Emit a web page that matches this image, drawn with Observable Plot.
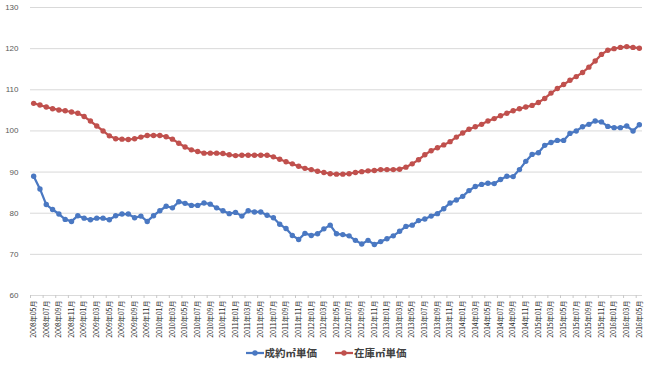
<!DOCTYPE html>
<html>
<head>
<meta charset="utf-8">
<script src="https://cdn.jsdelivr.net/npm/d3@7"></script>
<script src="https://cdn.jsdelivr.net/npm/@observablehq/plot@0.6"></script>
<style>
  body { margin: 0; background: #fff; font-family: "Noto Sans CJK JP", "Liberation Sans", sans-serif; }
  #chart svg { display: block; }
  #legend { width: 650px; height: 25px; display: flex; justify-content: center; align-items: center; gap: 18px; font-size: 10.5px; font-weight: bold; color: #404040; padding-left: 2px; box-sizing: border-box; }
  .item { display: flex; align-items: center; gap: 1px; }
</style>
</head>
<body>
<div id="chart"></div>
<div id="legend"></div>
<script>
// Categories: monthly, 2008年05月 … 2016年05月
const months = d3.timeMonth.range(new Date(2008, 4, 1), new Date(2016, 5, 1))
  .map(d => `${d.getFullYear()}年${String(d.getMonth() + 1).padStart(2, "0")}月`);
const tickLabels = months.filter((m, i) => i % 2 === 0);
const yTicks = [60, 70, 80, 90, 100, 110, 120, 130];
const seriesNames = ["成約㎡単価", "在庫㎡単価"];
const seriesColors = ["#4A78C2", "#C0504D"];

// 成約㎡単価
const contract = [
  89.0, 85.9, 82.1, 80.9, 79.8, 78.5, 78.0, 79.4, 78.8, 78.4,
  78.8, 78.8, 78.4, 79.4, 79.8, 79.8, 78.9, 79.3, 78.0, 79.4,
  80.6, 81.7, 81.3, 82.8, 82.4, 81.9, 81.9, 82.5, 82.2, 81.3,
  80.6, 79.9, 80.2, 79.3, 80.6, 80.3, 80.3, 79.5, 78.9, 77.3,
  76.3, 74.6, 73.6, 75.1, 74.6, 75.0, 76.2, 77.1, 75.0, 74.8,
  74.5, 73.4, 72.5, 73.4, 72.4, 73.1, 73.8, 74.5, 75.6, 76.8,
  77.1, 78.2, 78.6, 79.3, 79.9, 81.1, 82.5, 83.2, 84.1, 85.5,
  86.5, 87.0, 87.3, 87.2, 88.2, 89.0, 88.9, 90.6, 92.6, 94.3,
  94.7, 96.5, 97.2, 97.7, 97.7, 99.4, 100.0, 101.0, 101.6, 102.4,
  102.2, 101.1, 100.8, 100.8, 101.2, 100.0, 101.5
];
// 在庫㎡単価
const stock = [
  106.7, 106.3, 105.8, 105.4, 105.1, 104.9, 104.6, 104.3, 103.5, 102.4,
  101.2, 100.0, 98.8, 98.1, 98.0, 97.9, 98.1, 98.5, 98.9, 98.9,
  98.9, 98.6, 98.0, 97.0, 96.1, 95.4, 95.0, 94.6, 94.6, 94.6,
  94.5, 94.2, 94.0, 94.1, 94.1, 94.1, 94.1, 94.1, 93.7, 93.1,
  92.5, 92.0, 91.4, 90.9, 90.6, 90.2, 89.9, 89.6, 89.5, 89.5,
  89.6, 89.9, 90.1, 90.3, 90.4, 90.6, 90.6, 90.6, 90.7, 91.2,
  92.0, 93.0, 94.2, 95.2, 95.9, 96.6, 97.4, 98.5, 99.5, 100.4,
  101.0, 101.6, 102.4, 103.0, 103.7, 104.3, 104.9, 105.4, 105.8, 106.2,
  106.9, 107.9, 109.2, 110.3, 111.3, 112.3, 113.2, 114.2, 115.5, 117.0,
  118.6, 119.6, 120.0, 120.3, 120.5, 120.3, 120.1
];

const data = [
  ...months.map((m, i) => ({month: m, series: seriesNames[0], value: contract[i]})),
  ...months.map((m, i) => ({month: m, series: seriesNames[1], value: stock[i]}))
];

const chart = Plot.plot({
  width: 650,
  height: 340,
  marginLeft: 30,
  marginRight: 8,
  marginTop: 7,
  marginBottom: 45,
  style: {fontFamily: "'Liberation Sans', 'Noto Sans CJK JP', sans-serif", fontSize: "8px", color: "#595959", background: "#fff"},
  x: {type: "point", domain: months, padding: 0.5, round: false, axis: null, label: null},
  y: {domain: [60, 130], axis: null, label: null},
  color: {domain: seriesNames, range: seriesColors},
  marks: [
    Plot.gridY(yTicks, {stroke: "#d9d9d9", strokeOpacity: 1, strokeWidth: 1}),
    Plot.axisY(yTicks, {tickSize: 0, tickPadding: 12, fontSize: 8, fill: "#595959", label: null}),
    Plot.axisX(tickLabels, {tickSize: 3, tickFormat: () => "", dx: -3.15, stroke: "#c8c8c8", label: null}),
    Plot.axisX(tickLabels, {tickSize: 0, tickPadding: 5, tickRotate: -90, fontSize: 7, fill: "#262626", label: null,
      fontFamily: "'Noto Sans CJK JP', sans-serif"}),
    Plot.line(data, {x: "month", y: "value", z: "series", stroke: "series", strokeWidth: 2.25}),
    Plot.dot(data, {x: "month", y: "value", fill: "series", r: 2.7})
  ]
});
document.getElementById("chart").appendChild(chart);

const legend = document.getElementById("legend");
seriesNames.forEach((name, i) => {
  const item = document.createElement("div");
  item.className = "item";
  item.innerHTML = `<svg width="18" height="8"><line x1="0" x2="18" y1="4" y2="4" stroke="${seriesColors[i]}" stroke-width="2.25"/><circle cx="9" cy="4" r="2.7" fill="${seriesColors[i]}"/></svg><span>${name}</span>`;
  legend.appendChild(item);
});
</script>
</body>
</html>
